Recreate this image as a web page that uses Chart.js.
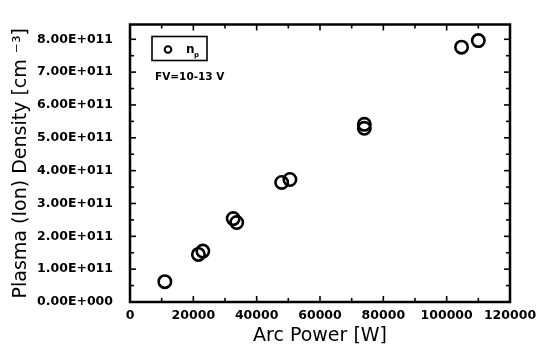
<!DOCTYPE html>
<html>
<head>
<meta charset="utf-8">
<script src="https://cdn.jsdelivr.net/npm/chart.js@4/dist/chart.umd.min.js"></script>
<style>
html,body{margin:0;padding:0;background:#fff;}
#wrap{width:537px;height:360px;position:relative;}
</style>
</head>
<body>
<div id="wrap"><canvas id="c" width="537" height="360"></canvas></div>
<script>
// Data
const arcPower = [11000, 21600, 23000, 32600, 33700, 47900, 50500, 74000, 74000, 104700, 110000];
const ionDensity = [0.62e11, 1.45e11, 1.55e11, 2.54e11, 2.42e11, 3.64e11, 3.73e11, 5.41e11, 5.29e11, 7.76e11, 7.96e11];
const xTickValues = [0, 20000, 40000, 60000, 80000, 100000, 120000];
const yTickValues = [0, 1e11, 2e11, 3e11, 4e11, 5e11, 6e11, 7e11, 8e11];
const xTitle = 'Arc Power [W]';
const yTitle = 'Plasma (Ion) Density [cm \u207B\u00B3]';
const legendLabel = 'n';
const legendSub = 'p';
const noteText = 'FV=10-13 V';

function sci(v){
  if (v === 0) return '0.00E+000';
  const e = Math.floor(Math.log10(Math.abs(v)));
  const m = v / Math.pow(10, e);
  return m.toFixed(2) + 'E' + (e >= 0 ? '+' : '-') + String(Math.abs(e)).padStart(3, '0');
}

const points = arcPower.map((x, i) => ({x: x, y: ionDensity[i]}));

const frame = {
  id: 'frame',
  afterDatasetsDraw(chart){
    const ctx = chart.ctx, ca = chart.chartArea;
    const xs = chart.scales.x, ys = chart.scales.y;
    ctx.save();
    ctx.strokeStyle = '#000';
    ctx.lineWidth = 1.6;
    const xMinor = xTickValues.slice(0, -1).map((v, i) => (v + xTickValues[i + 1]) / 2);
    const yMinor = yTickValues.map(v => v + 0.5e11).filter(v => v <= ys.max);
    const drawX = (vals, len) => vals.forEach(v => {
      const p = xs.getPixelForValue(v);
      ctx.beginPath(); ctx.moveTo(p, ca.bottom); ctx.lineTo(p, ca.bottom - len); ctx.stroke();
      ctx.beginPath(); ctx.moveTo(p, ca.top); ctx.lineTo(p, ca.top + len); ctx.stroke();
    });
    const drawY = (vals, len) => vals.forEach(v => {
      const p = ys.getPixelForValue(v);
      ctx.beginPath(); ctx.moveTo(ca.left, p); ctx.lineTo(ca.left + len, p); ctx.stroke();
      ctx.beginPath(); ctx.moveTo(ca.right, p); ctx.lineTo(ca.right - len, p); ctx.stroke();
    });
    drawX(xTickValues, 6); drawX(xMinor, 4);
    drawY(yTickValues, 6); drawY(yMinor, 4);
    ctx.lineWidth = 2.5;
    ctx.strokeRect(ca.left, ca.top, ca.width, ca.height);
    // legend box
    const lx = ca.left + 22, ly = ca.top + 12;
    ctx.lineWidth = 1.6;
    ctx.strokeRect(lx, ly, 55, 24);
    ctx.lineWidth = 2;
    ctx.beginPath(); ctx.arc(lx + 16, ly + 13, 3.3, 0, Math.PI * 2); ctx.stroke();
    ctx.fillStyle = '#000';
    ctx.textBaseline = 'alphabetic';
    ctx.font = 'bold 12px "DejaVu Sans"';
    ctx.fillText(legendLabel, lx + 34, ly + 16);
    ctx.font = 'bold 7px "DejaVu Sans"';
    ctx.fillText(legendSub, lx + 42, ly + 20);
    ctx.font = 'bold 10.5px "DejaVu Sans"';
    ctx.fillText(noteText, lx + 3, ly + 43);
    ctx.restore();
  }
};

new Chart(document.getElementById('c'), {
  type: 'scatter',
  data: {
    datasets: [{
      label: 'np',
      data: points,
      pointStyle: 'circle',
      pointRadius: 6.2,
      pointHoverRadius: 6.2,
      borderWidth: 2.6,
      borderColor: '#000',
      backgroundColor: 'rgba(0,0,0,0)'
    }]
  },
  options: {
    responsive: false,
    animation: false,
    events: [],
    layout: {padding: {top: 13, right: 27, left: 0, bottom: 0}},
    plugins: {legend: {display: false}, tooltip: {enabled: false}},
    scales: {
      x: {
        type: 'linear', min: 0, max: 120000,
        afterBuildTicks: s => { s.ticks = xTickValues.map(v => ({value: v})); },
        afterFit: s => { s.height = 58; s.paddingLeft = 0; s.paddingRight = 0; },
        grid: {display: false, drawTicks: false},
        border: {display: false},
        ticks: {
          autoSkip: false, maxRotation: 0, padding: 6, color: '#000',
          font: {family: '"DejaVu Sans"', size: 12.5, weight: 'bold'},
          callback: v => String(v)
        },
        title: {display: true, text: xTitle, color: '#000',
          font: {family: '"DejaVu Sans"', size: 19}, padding: {top: 0, bottom: 13}}
      },
      y: {
        type: 'linear', min: 0, max: 8.45e11,
        afterBuildTicks: s => { s.ticks = yTickValues.map(v => ({value: v})); },
        afterFit: s => { s.width = 130; },
        grid: {display: false, drawTicks: false},
        border: {display: false},
        ticks: {
          autoSkip: false, padding: 17, color: '#000',
          font: {family: '"DejaVu Sans"', size: 12.5, weight: 'bold'},
          callback: v => sci(v)
        },
        title: {display: true, text: yTitle, color: '#000',
          font: {family: '"DejaVu Sans"', size: 19}, padding: {top: 9.5, bottom: 0}}
      }
    }
  },
  plugins: [frame]
});
</script>
</body>
</html>
